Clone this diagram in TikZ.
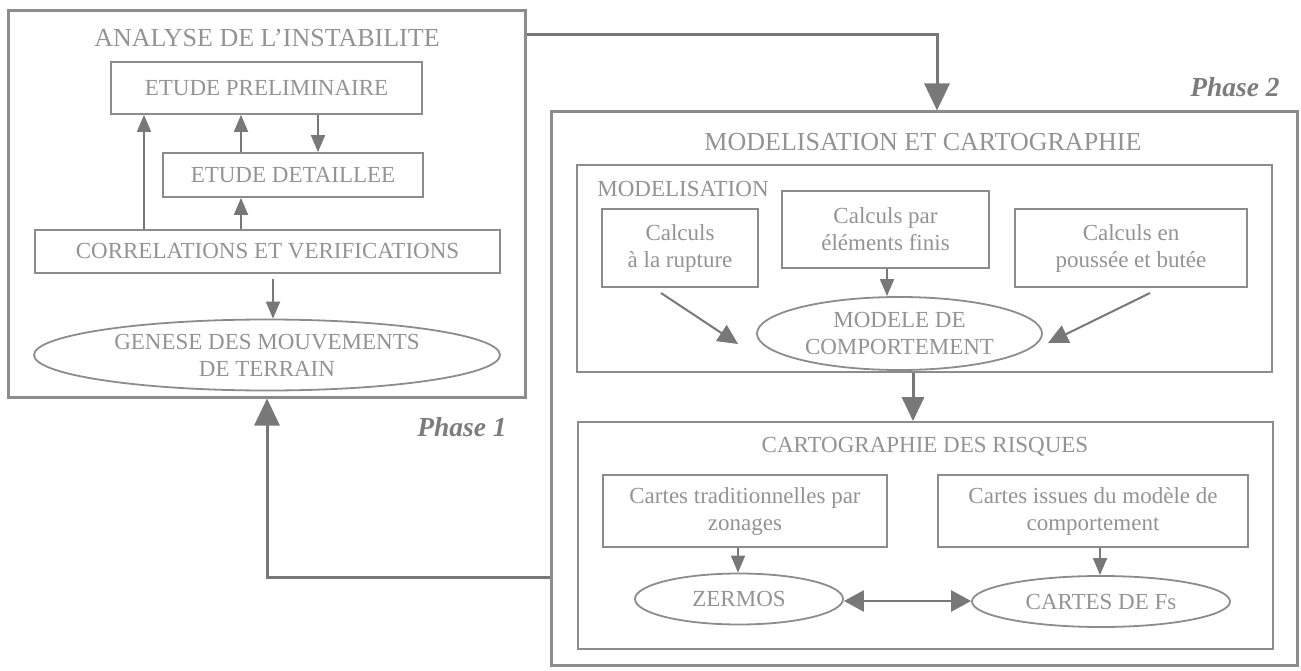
\documentclass[tikz,border=0pt]{standalone}
\usepackage{fontspec}
\setmainfont{Liberation Serif}
\usetikzlibrary{shapes.geometric,arrows.meta}
\definecolor{boxc}{HTML}{8C8C8C}
\definecolor{txtc}{HTML}{939393}
\definecolor{arrc}{HTML}{787878}
\definecolor{phc}{HTML}{7C7C7C}
\begin{document}
\begin{tikzpicture}[x=1pt,y=-1pt,
  outer/.style={draw=boxc,line width=3pt,inner sep=0pt},
  box/.style={draw=boxc,line width=1.8pt,inner sep=0pt,text=txtc,align=center,font=\fontsize{23}{27}\selectfont},
  oval/.style={box,ellipse},
  ttl/.style={text=txtc,inner sep=0pt,font=\fontsize{26}{30}\selectfont},
  lbl/.style={text=txtc,inner sep=0pt,font=\fontsize{23}{27}\selectfont},
  phase/.style={text=phc,inner sep=0pt,font=\fontsize{27.5}{32}\selectfont\bfseries\itshape},
  sarr/.style={draw=arrc,line width=1.8pt,-{Triangle[length=17pt,width=14pt]}},
  marr/.style={draw=arrc,line width=2pt,-{Triangle[length=20pt,width=19pt]}},
  barr/.style={draw=arrc,line width=3pt,-{Triangle[length=27pt,width=25pt]}},
  darr/.style={draw=arrc,line width=2.5pt,{Triangle[length=20pt,width=21pt]}-{Triangle[length=20pt,width=21pt]}}
]
\useasboundingbox (0,0) rectangle (1301,671);
% ---- Phase 1 ----
\node[outer,minimum width=517pt,minimum height=386pt] (outerL) at (266.5,204) {};
\node[ttl] (t1) at (267,38) {ANALYSE DE L'INSTABILITE};
\node[box,minimum width=311pt,minimum height=52pt] (prelim) at (266.5,88) {ETUDE PRELIMINAIRE};
\node[box,minimum width=260pt,minimum height=44pt] (detail) at (293,175) {ETUDE DETAILLEE};
\node[box,minimum width=465pt,minimum height=43pt] (corr) at (267.5,251.5) {CORRELATIONS ET VERIFICATIONS};
\node[oval,minimum width=466pt,minimum height=71pt] (genese) at (267,355) {GENESE DES MOUVEMENTS\\DE TERRAIN};
\coordinate (xa) at (144,0);
\coordinate (xb) at (241,0);
\coordinate (xc) at (318,0);
\coordinate (xd) at (273,0);
\draw[sarr] (corr.north -| xa) -- (prelim.south -| xa);
\draw[sarr] (corr.north -| xb) -- (detail.south -| xb);
\draw[sarr] (detail.north -| xb) -- (prelim.south -| xb);
\draw[sarr] (prelim.south -| xc) -- (detail.north -| xc);
\draw[sarr,shorten <=5pt] (corr.south -| xd) -- (genese.north -| xd);
\node[phase] (ph1) at (462,427) {Phase 1};
% ---- Phase 2 ----
\node[outer,minimum width=746pt,minimum height=553pt] (bigR) at (924,388.5) {};
\node[phase] (ph2) at (1235,87) {Phase 2};
\node[ttl] (t2) at (923,142) {MODELISATION ET CARTOGRAPHIE};
\node[box,minimum width=695pt,minimum height=207pt] (modbox) at (924.5,268.5) {};
\node[lbl] (t3) at (683,189) {MODELISATION};
\node[box,minimum width=156pt,minimum height=78pt] (rupture) at (680,248) {Calculs\\à la rupture};
\node[box,minimum width=207pt,minimum height=77pt] (finis) at (885.5,229.5) {Calculs par\\éléments finis};
\node[box,minimum width=232pt,minimum height=78pt] (poussee) at (1131,248) {Calculs en\\poussée et butée};
\node[oval,minimum width=285pt,minimum height=73pt] (modele) at (899.5,333.5) {MODELE DE\\COMPORTEMENT};
\coordinate (xe) at (887,0);
\draw[sarr] (finis.south -| xe) -- (modele.north -| xe);
\coordinate (r1) at (661,293);
\coordinate (r2) at (738,344);
\coordinate (p1) at (1150,293);
\coordinate (p2) at (1048,343);
\draw[marr] (r1) -- (r2);
\draw[marr] (p1) -- (p2);
\node[box,minimum width=695pt,minimum height=227pt] (cartobox) at (925.5,535.5) {};
\node[lbl] (t4) at (925,447) {CARTOGRAPHIE DES RISQUES};
\node[box,minimum width=284pt,minimum height=72pt] (trad) at (745,511) {Cartes traditionnelles par\\zonages};
\node[box,minimum width=310pt,minimum height=72pt] (issues) at (1093,511) {Cartes issues du modèle de\\comportement};
\node[oval,minimum width=208pt,minimum height=51pt] (zermos) at (739,599) {ZERMOS};
\node[oval,minimum width=258pt,minimum height=51pt] (fs) at (1101,601.5) {CARTES DE Fs};
\coordinate (xf) at (738,0);
\coordinate (xg) at (1100,0);
\coordinate (xh) at (913,0);
\coordinate (yd) at (0,601);
\draw[sarr] (trad.south -| xf) -- (zermos.north -| xf);
\draw[sarr] (issues.south -| xg) -- (fs.north -| xg);
\draw[darr] (zermos.east |- yd) -- (fs.west |- yd);
\draw[barr,-{Triangle[length=24pt,width=22pt]}] (modbox.south -| xh) -- (cartobox.north -| xh);
% ---- connectors between phases ----
\coordinate (tc) at (937,35);
\coordinate (fc) at (267,577);
\draw[barr] (outerL.east |- tc) -| (bigR.north -| tc);
\draw[barr] (bigR.west |- fc) -| (outerL.south -| fc);
\end{tikzpicture}
\end{document}
